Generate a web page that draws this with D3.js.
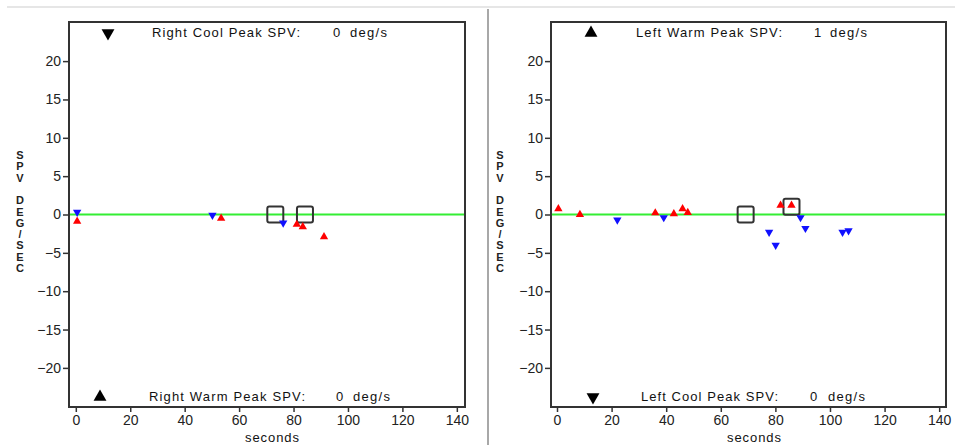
<!DOCTYPE html>
<html>
<head>
<meta charset="utf-8">
<script src="https://cdn.jsdelivr.net/npm/d3@7"></script>
<style>
  body { margin: 0; background: #fff; }
  svg { display: block; font-family: "Liberation Sans", Arial, sans-serif; }
</style>
</head>
<body>
<div id="graf"></div>
<script>
// I. Data (seconds, deg/s)
rightWarm  = [[0.5, -0.9], [53.4, -0.5], [81.2, -1.3], [83.4, -1.6], [91.2, -2.9]]
rightCool  = [[0.5, 0.3], [50.2, -0.1], [76.2, -1.1]]
rightPeaks = [[73.3, 0], [84.2, 0]]

leftWarm  = [[0.5, 0.75], [8.4, 0], [36, 0.2], [42.8, 0.1], [46, 0.75], [47.9, 0.25], [81.9, 1.2], [85.9, 1.2]]
leftCool  = [[22.1, -0.7], [39.1, -0.4], [77.7, -2.3], [80.1, -4.0], [89.2, -0.4], [91.0, -1.8], [104.6, -2.3], [106.8, -2.1]]
leftPeaks = [[69.1, 0], [85.9, 1.0]]

xTicks = [0, 20, 40, 60, 80, 100, 120, 140]
yTicks = [20, 15, 10, 5, 0, -5, -10, -15, -20]
yLabel = ['S', 'P', 'V', '', 'D', 'E', 'G', '/', 'S', 'E', 'C']

// II. Configuration
ancho = 955
alto = 445
top0 = 22
bottom0 = 407

svg = d3.select('#graf').append('svg')
  .attr('width', ancho)
  .attr('height', alto)

svg.append('line')
  .attr('x1', 7).attr('x2', ancho).attr('y1', 7).attr('y2', 7)
  .attr('stroke', '#e6e6e6').attr('stroke-width', 2)
svg.append('line')
  .attr('x1', 488).attr('x2', 488).attr('y1', 9).attr('y2', alto)
  .attr('stroke', '#a8a8a8').attr('stroke-width', 2)

paneles = [
  {
    left: 69, right: 465, xdom: [-2.5, 143], labX: 20, secX: 272,
    warm: rightWarm, cool: rightCool, peaks: rightPeaks,
    top:    { tri: 'down', triX: 108, txt: 'Right Cool Peak SPV:', tx: 152, tw: 148, val: '0', vx: 333, ux: 350 },
    bottom: { tri: 'up',   triX: 100, txt: 'Right Warm Peak SPV:', tx: 149, tw: 156, val: '0', vx: 336, ux: 353 }
  },
  {
    left: 551, right: 946, xdom: [-2.2, 142.5], labX: 500, secX: 754,
    warm: leftWarm, cool: leftCool, peaks: leftPeaks,
    top:    { tri: 'up',   triX: 591, txt: 'Left Warm Peak SPV:', tx: 636, tw: 146, val: '1', vx: 814, ux: 830 },
    bottom: { tri: 'down', triX: 593, txt: 'Left Cool Peak SPV:', tx: 641, tw: 137, val: '0', vx: 810, ux: 828 }
  }
]

y = d3.scaleLinear().domain([-25.1, 25.1]).range([bottom0, top0])

tri = d3.symbol().type(d3.symbolTriangle)

// III. Render
function render(p) {
  x = d3.scaleLinear().domain(p.xdom).range([p.left, p.right])
  g = svg.append('g')

  // axes
  yAxis = d3.axisLeft(y).tickValues(yTicks).tickSize(6).tickPadding(2)
  g.append('g').attr('transform', `translate(${p.left}, 0)`).call(yAxis)
  xAxis = d3.axisBottom(x).tickValues(xTicks).tickSize(5).tickPadding(3)
  g.append('g').attr('transform', `translate(0, ${bottom0})`).call(xAxis)
  g.selectAll('.domain').remove()
  g.selectAll('.tick line').attr('stroke', '#333').attr('stroke-width', 1.5)
  g.selectAll('.tick text').attr('fill', '#222').style('font-size', '14px')
    .style('font-family', '"Liberation Sans", Arial, sans-serif')

  // zero line
  g.append('line')
    .attr('x1', p.left).attr('x2', p.right)
    .attr('y1', y(0)).attr('y2', y(0))
    .attr('stroke', '#33ee33').attr('stroke-width', 2)

  // frame
  g.append('rect')
    .attr('x', p.left).attr('y', top0)
    .attr('width', p.right - p.left).attr('height', bottom0 - top0)
    .attr('fill', 'none').attr('stroke', '#333').attr('stroke-width', 2)

  // peak boxes
  g.selectAll('.peak').data(p.peaks).enter().append('rect')
    .attr('class', 'peak')
    .attr('x', d => x(d[0]) - 8).attr('y', d => y(d[1]) - 8)
    .attr('width', 16).attr('height', 16).attr('rx', 2)
    .attr('fill', 'none').attr('stroke', '#333').attr('stroke-width', 2)

  // warm = red up, cool = blue down
  g.selectAll('.warm').data(p.warm).enter().append('path')
    .attr('class', 'warm')
    .attr('d', tri.size(30)())
    .attr('transform', d => `translate(${x(d[0])}, ${y(d[1])})`)
    .attr('fill', '#ff0000')
  g.selectAll('.cool').data(p.cool).enter().append('path')
    .attr('class', 'cool')
    .attr('d', tri.size(30)())
    .attr('transform', d => `translate(${x(d[0])}, ${y(d[1])}) rotate(180)`)
    .attr('fill', '#1010ff')

  // header / footer text
  ;[[p.top, 33, 37], [p.bottom, 397, 401]].forEach(([h, ty, by]) => {
    g.append('path')
      .attr('d', d3.symbol().type(d3.symbolTriangle).size(72)())
      .attr('transform', `translate(${h.triX}, ${ty}) rotate(${h.tri == 'down' ? 180 : 0})`)
      .attr('fill', '#000')
    g.append('text').attr('x', h.tx).attr('y', by)
      .attr('textLength', h.tw).attr('lengthAdjust', 'spacing')
      .style('font-size', '13px').attr('fill', '#111').text(h.txt)
    g.append('text').attr('x', h.vx).attr('y', by)
      .style('font-size', '13px').attr('fill', '#111').text(h.val)
    g.append('text').attr('x', h.ux).attr('y', by)
      .attr('textLength', 37).attr('lengthAdjust', 'spacing')
      .style('font-size', '13px').attr('fill', '#111').text('deg/s')
  })

  // x label
  g.append('text').attr('x', p.secX).attr('y', 442)
    .attr('text-anchor', 'middle')
    .attr('textLength', 54).attr('lengthAdjust', 'spacing')
    .style('font-size', '13px').attr('fill', '#111').text('seconds')

  // stacked y label
  g.selectAll('.ylab').data(yLabel).enter().append('text')
    .attr('class', 'ylab')
    .attr('x', p.labX)
    .attr('y', (d, i) => 159 + i * 11.3)
    .attr('text-anchor', 'middle')
    .style('font-size', '11px').style('font-weight', 'bold')
    .attr('fill', '#222')
    .text(d => d)
}

paneles.forEach(p => render(p))
</script>
</body>
</html>
